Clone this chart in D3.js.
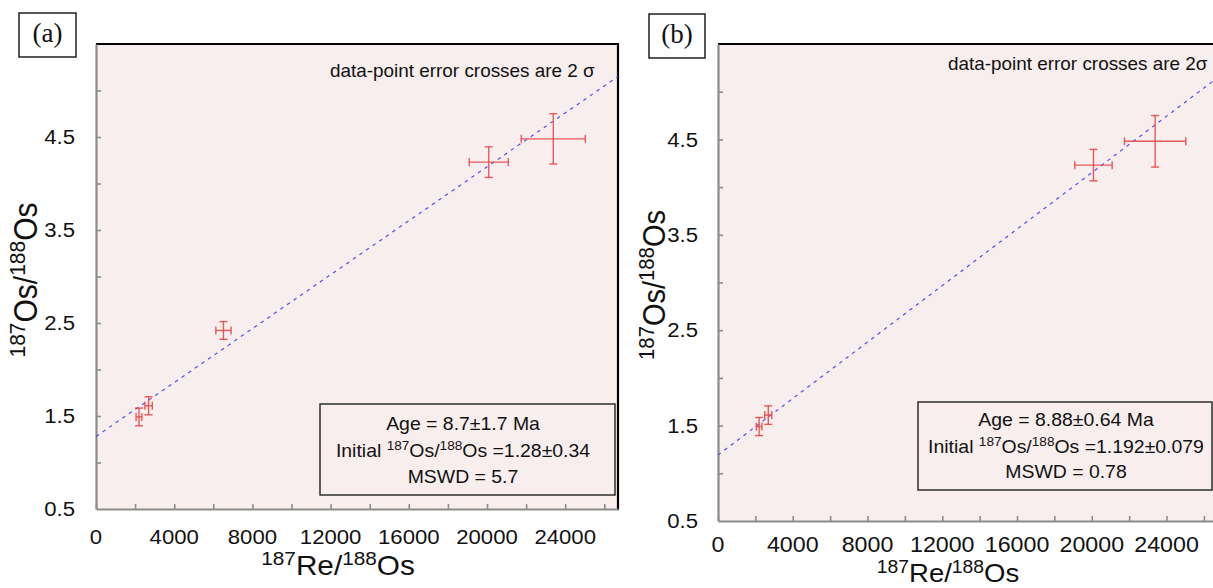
<!DOCTYPE html>
<html>
<head>
<meta charset="utf-8">
<script src="https://cdn.jsdelivr.net/npm/d3@7/dist/d3.min.js"></script>
<style>
  html, body { margin: 0; padding: 0; background: #fff; }
  svg { display: block; font-family: "Liberation Sans", Arial, sans-serif; }
</style>
</head>
<body>
<svg id="chart" width="1213" height="588"></svg>
<script>
// 187Re/188Os and 187Os/188Os isotope ratios with 2-sigma uncertainties
const reRatio  = [2200, 2690, 6520, 20090, 23390];
const osRatio  = [1.49, 1.61, 2.42, 4.23, 4.48];
const reErr2s  = [150, 190, 390, 1000, 1640];
const osErr2s  = [0.095, 0.097, 0.095, 0.165, 0.27];
// which analyses enter each regression (panel b omits the outlier)
const usedInA = [true, true, true, true, true];
const usedInB = [true, true, false, true, true];

// isochron results per panel
const panelNames   = ["(a)", "(b)"];
const fitAgeMa     = [8.7, 8.88];
const fitAgeErr    = [1.7, 0.64];
const fitInitial   = [1.28, 1.192];
const fitInitErr   = [0.34, 0.079];
const fitMSWD      = [5.7, 0.78];
const errorNotes   = ["data-point error crosses are 2 \u03c3", "data-point error crosses are 2\u03c3"];

// axis ticks
const xDomain      = [0, 26700];
const yDomain      = [0.5, 5.5];
const xTickMarks   = d3.range(0, 26001, 2000);
const xTickLabels  = [0, 4000, 8000, 12000, 16000, 20000, 24000];
const yTickMarks   = d3.range(1, 5.01, 0.5);
const yTickLabels  = [0.5, 1.5, 2.5, 3.5, 4.5];

const LAMBDA_RE187 = 1.666e-11; // decay constant, 1/yr

const STRETCH = 1.08;   // slightly wide lettering
const svg = d3.select("#chart");

// Text made of normal and superscript runs
function richText(sel, parts, size) {
  const supSize = size * 0.7, rise = size * 0.36;
  let raised = false;
  parts.forEach(p => {
    const sup = p.startsWith("^");
    const t = sup ? p.slice(1) : p;
    const ts = sel.append("tspan").text(t).attr("font-size", sup ? supSize : size);
    if (sup && !raised) { ts.attr("dy", -rise); raised = true; }
    else if (!sup && raised) { ts.attr("dy", rise); raised = false; }
  });
  return sel;
}

const layouts = [
  { left: 96,  top: 44, right: 618,  bottom: 509, rightBorder: true,
    labelBox: { x: 19, y: 13, w: 57, h: 44 },
    note: { x: 330, y: 77 },
    stats: { x: 320, y: 404, w: 295, h: 91, cx: 463, lines: [430, 456.7, 482.7] },
    xTickSize: 20.5, yTickSize: 20.5, xLabelY: 544, yLabelGap: 21,
    xTitle: { x: 338, y: 575, size: 27.5 }, yTitle: { x: 37, y: 280, size: 30 },
    used: usedInA },
  { left: 718, top: 44, right: 1217, bottom: 521, rightBorder: false,
    labelBox: { x: 649, y: 14, w: 56, h: 44 },
    note: { x: 948, y: 69.5 },
    stats: { x: 918, y: 402, w: 294, h: 88, cx: 1066, lines: [426, 452.7, 478.3] },
    xTickSize: 21.5, yTickSize: 20.5, xLabelY: 552, yLabelGap: 20,
    xTitle: { x: 948, y: 582, size: 25.5 }, yTitle: { x: 665, y: 285, size: 29 },
    used: usedInB }
];

layouts.forEach((L, i) => {
  const x = d3.scaleLinear().domain(xDomain).range([L.left, L.right]);
  const y = d3.scaleLinear().domain(yDomain).range([L.bottom, L.top]);
  const g = svg.append("g");

  // plot background
  g.append("rect")
    .attr("x", L.left).attr("y", L.top)
    .attr("width", L.right - L.left).attr("height", L.bottom - L.top)
    .attr("fill", "#f8eeee");

  // frame: black top (and right), grey axes
  g.append("line").attr("x1", L.left).attr("x2", L.right + 1)
    .attr("y1", L.top).attr("y2", L.top)
    .attr("stroke", "#000").attr("stroke-width", 2.2);
  if (L.rightBorder) {
    g.append("line").attr("x1", L.right).attr("x2", L.right)
      .attr("y1", L.top).attr("y2", L.bottom + 1)
      .attr("stroke", "#000").attr("stroke-width", 2.2);
  }

  const xAxis = d3.axisBottom(x).tickValues(xTickMarks).tickFormat("")
    .tickSizeInner(-5).tickSizeOuter(0);
  const yAxis = d3.axisLeft(y).tickValues(yTickMarks).tickFormat("")
    .tickSizeInner(-5).tickSizeOuter(0);

  const gx = g.append("g").attr("transform", `translate(0,${L.bottom})`).call(xAxis);
  const gy = g.append("g").attr("transform", `translate(${L.left},0)`).call(yAxis);
  [gx, gy].forEach(a => {
    a.selectAll("text").remove();
    a.select(".domain").attr("stroke", "#8c8c8c").attr("stroke-width", 2.2);
    a.selectAll(".tick line").attr("stroke", "#8c8c8c").attr("stroke-width", 1.6);
  });

  // tick labels
  g.selectAll("text.xtl").data(xTickLabels).join("text")
    .attr("class", "xtl")
    .attr("transform", d => `translate(${x(d)},${L.xLabelY}) scale(${STRETCH},1)`)
    .attr("text-anchor", "middle").attr("font-size", L.xTickSize).attr("fill", "#111")
    .text(d => String(d));
  g.selectAll("text.ytl").data(yTickLabels).join("text")
    .attr("class", "ytl")
    .attr("transform", d => `translate(${L.left - L.yLabelGap},${y(d)}) scale(${STRETCH},1)`)
    .attr("text-anchor", "end").attr("dy", "0.35em")
    .attr("font-size", L.yTickSize).attr("fill", "#111")
    .text(d => d.toFixed(1));

  // regression line: 187Os/188Os = initial + 187Re/188Os * (e^(lambda t) - 1)
  const slope = Math.exp(LAMBDA_RE187 * fitAgeMa[i] * 1e6) - 1;
  const fit = d => fitInitial[i] + slope * d;
  g.append("line")
    .attr("x1", x(xDomain[0])).attr("y1", y(fit(xDomain[0])))
    .attr("x2", x(xDomain[1])).attr("y2", y(fit(xDomain[1])))
    .attr("stroke", "#5050ee").attr("stroke-width", 1.2)
    .attr("stroke-dasharray", "3.5,4.5");

  // error crosses
  const pts = reRatio.map((r, k) => ({ r, o: osRatio[k], er: reErr2s[k], eo: osErr2s[k] }))
    .filter((p, k) => L.used[k]);
  const cap = 4;
  const cross = g.selectAll("g.pt").data(pts).join("g").attr("class", "pt")
    .attr("stroke", "#e84848").attr("stroke-width", 1.4).attr("stroke-opacity", 0.9);
  cross.append("line")
    .attr("x1", d => x(d.r - d.er)).attr("x2", d => x(d.r + d.er))
    .attr("y1", d => y(d.o)).attr("y2", d => y(d.o));
  cross.append("line")
    .attr("x1", d => x(d.r)).attr("x2", d => x(d.r))
    .attr("y1", d => y(d.o - d.eo)).attr("y2", d => y(d.o + d.eo));
  cross.append("line")
    .attr("x1", d => x(d.r - d.er)).attr("x2", d => x(d.r - d.er))
    .attr("y1", d => y(d.o) - cap).attr("y2", d => y(d.o) + cap);
  cross.append("line")
    .attr("x1", d => x(d.r + d.er)).attr("x2", d => x(d.r + d.er))
    .attr("y1", d => y(d.o) - cap).attr("y2", d => y(d.o) + cap);
  cross.append("line")
    .attr("x1", d => x(d.r) - cap).attr("x2", d => x(d.r) + cap)
    .attr("y1", d => y(d.o - d.eo)).attr("y2", d => y(d.o - d.eo));
  cross.append("line")
    .attr("x1", d => x(d.r) - cap).attr("x2", d => x(d.r) + cap)
    .attr("y1", d => y(d.o + d.eo)).attr("y2", d => y(d.o + d.eo));

  // error note
  g.append("text")
    .attr("transform", `translate(${L.note.x},${L.note.y}) scale(${STRETCH},1)`)
    .attr("font-size", 17.5).attr("fill", "#111")
    .text(errorNotes[i]);

  // results box
  const S = L.stats;
  g.append("rect").attr("x", S.x).attr("y", S.y).attr("width", S.w).attr("height", S.h)
    .attr("fill", "none").attr("stroke", "#222").attr("stroke-width", 1.4);
  const statLine = (ly) => g.append("text")
    .attr("transform", `translate(${S.cx},${ly}) scale(${STRETCH},1)`)
    .attr("text-anchor", "middle").attr("fill", "#111");
  statLine(S.lines[0]).attr("font-size", 18)
    .text(`Age = ${fitAgeMa[i]}\u00b1${fitAgeErr[i]} Ma`);
  richText(statLine(S.lines[1]),
    ["Initial ", "^187", "Os/", "^188", `Os =${fitInitial[i]}\u00b1${fitInitErr[i]}`], 18);
  statLine(S.lines[2]).attr("font-size", 18).text(`MSWD = ${fitMSWD[i]}`);

  // axis titles
  richText(g.append("text")
    .attr("transform", `translate(${L.xTitle.x},${L.xTitle.y}) scale(${STRETCH},1)`)
    .attr("text-anchor", "middle").attr("fill", "#111"),
    ["^187", "Re/", "^188", "Os"], L.xTitle.size);
  richText(g.append("text")
    .attr("transform", `translate(${L.yTitle.x},${L.yTitle.y}) rotate(-90) scale(1,${STRETCH})`)
    .attr("text-anchor", "middle").attr("fill", "#111"),
    ["^187", "Os/", "^188", "Os"], L.yTitle.size);

  // panel letter
  const B = L.labelBox;
  g.append("rect").attr("x", B.x).attr("y", B.y).attr("width", B.w).attr("height", B.h)
    .attr("fill", "#fff").attr("stroke", "#111").attr("stroke-width", 1.4);
  g.append("text")
    .attr("x", B.x + B.w / 2).attr("y", B.y + 29)
    .attr("text-anchor", "middle")
    .attr("font-family", "'Liberation Serif', 'Times New Roman', serif")
    .attr("font-size", 27).attr("fill", "#111")
    .text(panelNames[i]);
});
</script>
</body>
</html>
